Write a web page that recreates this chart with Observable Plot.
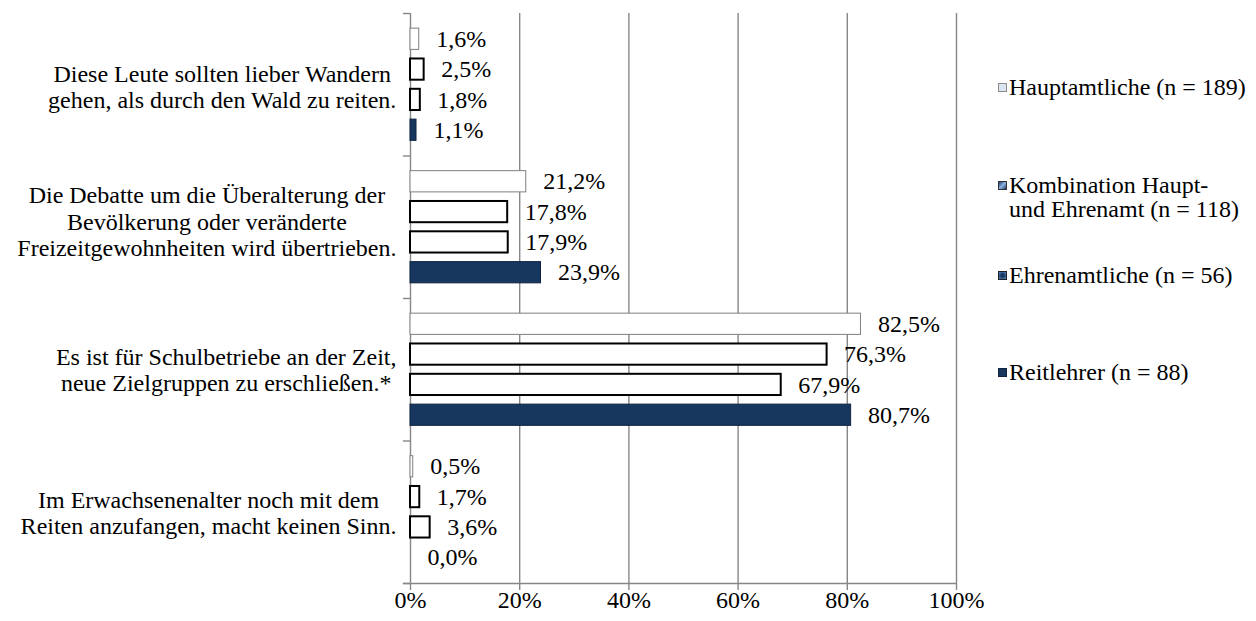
<!DOCTYPE html>
<html>
<head>
<meta charset="utf-8">
<script src="https://cdn.jsdelivr.net/npm/d3@7"></script>
<script src="https://cdn.jsdelivr.net/npm/@observablehq/plot@0.6"></script>
<style>
  html, body { margin: 0; padding: 0; background: #fff; }
  #wrap { position: relative; width: 1256px; height: 621px; font-family: "Liberation Serif", "Times New Roman", serif; }
  #wrap svg { font-family: "Liberation Serif", "Times New Roman", serif; }
  .sw { position: absolute; width: 9px; height: 9px; box-sizing: border-box; }
  .lt { position: absolute; font-size: 24px; line-height: 24px; color: #000; white-space: pre; }
</style>
</head>
<body>
<div id="wrap"></div>
<script>
// ---- data ----
const statements = [
  "Diese Leute sollten lieber Wandern\ngehen, als durch den Wald zu reiten.",
  "Die Debatte um die Überalterung der\nBevölkerung oder veränderte\nFreizeitgewohnheiten wird übertrieben.",
  "Es ist für Schulbetriebe an der Zeit,\nneue Zielgruppen zu erschließen.*",
  "Im Erwachsenenalter noch mit dem\nReiten anzufangen, macht keinen Sinn."
];
const seriesNames = [
  "Hauptamtliche (n = 189)",
  "Kombination Haupt-\nund Ehrenamt (n = 118)",
  "Ehrenamtliche (n = 56)",
  "Reitlehrer (n = 88)"
];
const hauptamtliche = [1.6, 21.2, 82.5, 0.5];
const kombination   = [2.5, 17.8, 76.3, 1.7];
const ehrenamtliche = [1.8, 17.9, 67.9, 3.6];
const reitlehrer    = [1.1, 23.9, 80.7, 0.0];
const xTicks = [0, 20, 40, 60, 80, 100];

// ---- styles ----
const barStyles = [
  {fill: "#ffffff", stroke: "#7f7f7f", strokeWidth: 1},
  {fill: "#ffffff", stroke: "#000000", strokeWidth: 2},
  {fill: "#ffffff", stroke: "#000000", strokeWidth: 2},
  {fill: "#17375e", stroke: "#0e2440", strokeWidth: 1}
];
const gridColor = "#878787";
const font = "Liberation Serif";
const fs = 24;
const labelShift = [2, -6, 0, 0];

// ---- layout within each statement group ----
const seriesValues = [hauptamtliche, kombination, ehrenamtliche, reitlehrer];
const inner = d3.scaleBand().domain(d3.range(seriesValues.length)).range([0, 1]).paddingInner(0.3).paddingOuter(0.5);
const rows = statements.flatMap((st, g) => seriesValues.map((arr, s) => ({
  g, s, value: arr[g],
  y1: g + inner(s), y2: g + inner(s) + inner.bandwidth()
})));
const fmt = v => d3.format(".1f")(v).replace(".", ",") + "%";

// measure label widths for centered multi-line labels
const ctx = document.createElement("canvas").getContext("2d");
ctx.font = `${fs}px "${font}"`;
const labelMarks = statements.map((st, g) => {
  const maxW = d3.max(st.split("\n"), l => ctx.measureText(l).width);
  return Plot.text([g], {
    x: () => 0, y: d => d + 0.5, text: d => statements[d],
    textAnchor: "middle", dx: -(14 + maxW / 2), dy: labelShift[g], lineHeight: 1.1,
    fontSize: fs, fill: "#000"
  });
});

const chart = Plot.plot({
  width: 1256,
  height: 621,
  marginLeft: 410,
  marginRight: 300,
  marginTop: 13,
  marginBottom: 38,
  style: {fontFamily: font, background: "#fff"},
  x: {domain: [0, 100], axis: null},
  y: {domain: [0, statements.length], reverse: true, axis: null},
  marks: [
    Plot.ruleX(xTicks.slice(1), {y1: 0, y2: statements.length, stroke: gridColor, strokeWidth: 1.4}),
    Plot.ruleX([0], {y1: 0, y2: statements.length, stroke: gridColor, strokeWidth: 1.4}),
    Plot.ruleY(d3.range(statements.length + 1), {x1: -1.3, x2: 0, stroke: gridColor, strokeWidth: 1.4}),
    Plot.ruleY([statements.length], {x1: -1.3, x2: 100, stroke: gridColor, strokeWidth: 1.4}),
    ...barStyles.map((st, s) => Plot.rect(rows.filter(d => d.s === s && d.value > 0), {
      x1: () => 0, x2: "value", y1: "y1", y2: "y2", ...st
    })),
    Plot.text(rows, {
      x: "value", y: d => (d.y1 + d.y2) / 2, text: d => fmt(d.value),
      textAnchor: "start", dx: 17, fontSize: fs, fill: "#000"
    }),
    ...labelMarks,
    Plot.axisX({
      ticks: xTicks, tickFormat: d => d + "%", tickSize: 7, tickPadding: 0,
      stroke: gridColor, strokeWidth: 1.4, fill: "#000", fontSize: fs, label: null
    })
  ]
});
const wrap = document.getElementById("wrap");
wrap.appendChild(chart);

// ---- legend ----
const legendTop = [75, 173, 263, 360];
const swatchStyles = [
  "background:#dce6f2;border:1px solid #8c8c8c;",
  "background:linear-gradient(135deg,#1f3864 0%,#8db3e2 50%,#1f3864 100%);border:1px solid #333;",
  "background:radial-gradient(circle,#17375e 30%,#4f81bd 90%);border:1px solid #222;",
  "background:#17375e;border:1px solid #0e2440;"
];
seriesNames.forEach((name, i) => {
  const sw = document.createElement("div");
  sw.className = "sw";
  sw.style.cssText = swatchStyles[i] + `left:998px;top:${legendTop[i] + 8}px;`;
  wrap.appendChild(sw);
  const t = document.createElement("div");
  t.className = "lt";
  t.style.left = "1009px";
  t.style.top = legendTop[i] + "px";
  t.textContent = name;
  wrap.appendChild(t);
});
</script>
</body>
</html>
